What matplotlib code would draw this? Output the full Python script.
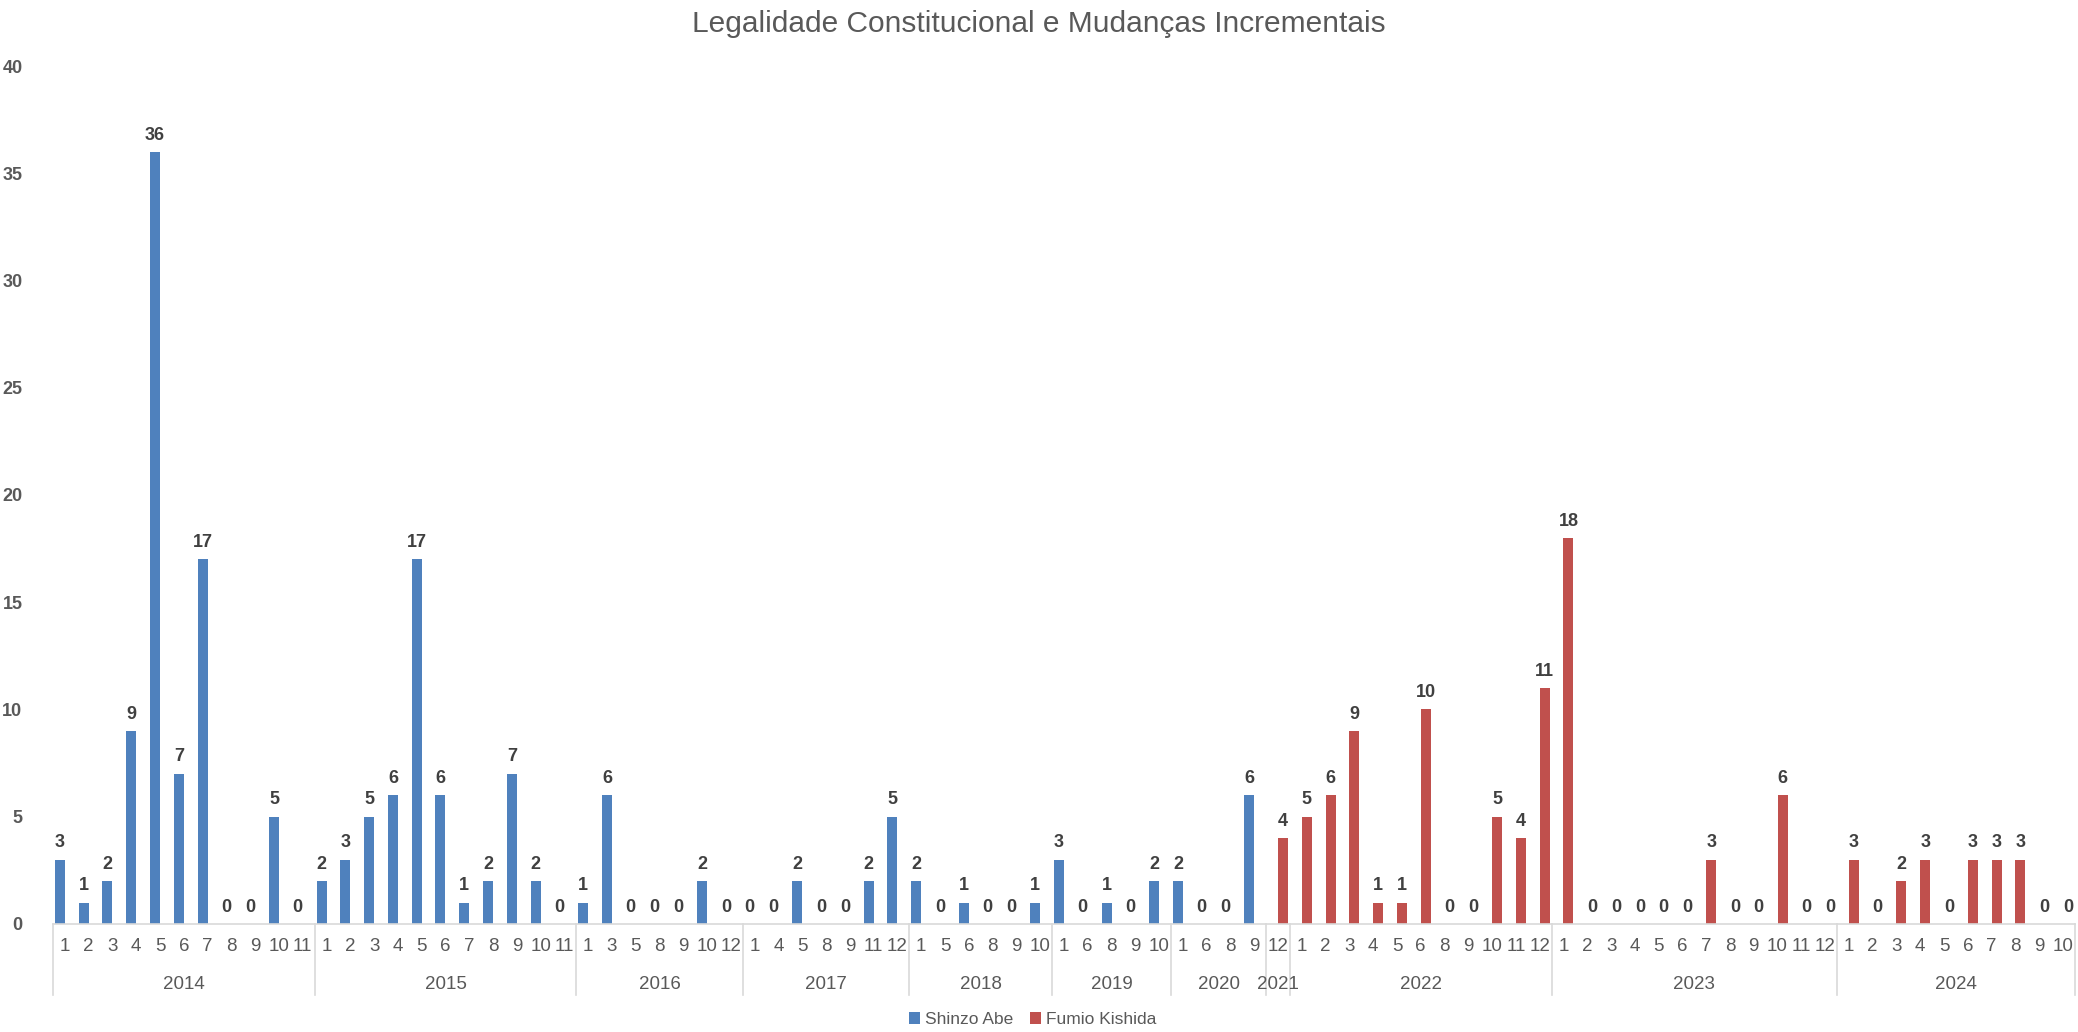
import numpy as np
import matplotlib.pyplot as plt
from matplotlib.transforms import blended_transform_factory

plt.rcParams['font.family'] = ['Liberation Sans', 'DejaVu Sans']

# Dados: anos, meses e contagens
anos = ['2014', '2015', '2016', '2017', '2018', '2019', '2020', '2021', '2022', '2023', '2024']
meses = [
    [1, 2, 3, 4, 5, 6, 7, 8, 9, 10, 11],
    [1, 2, 3, 4, 5, 6, 7, 8, 9, 10, 11],
    [1, 3, 5, 8, 9, 10, 12],
    [1, 4, 5, 8, 9, 11, 12],
    [1, 5, 6, 8, 9, 10],
    [1, 6, 8, 9, 10],
    [1, 6, 8, 9],
    [12],
    [1, 2, 3, 4, 5, 6, 8, 9, 10, 11, 12],
    [1, 2, 3, 4, 5, 6, 7, 8, 9, 10, 11, 12],
    [1, 2, 3, 4, 5, 6, 7, 8, 9, 10],
]
valores = [
    [3, 1, 2, 9, 36, 7, 17, 0, 0, 5, 0],
    [2, 3, 5, 6, 17, 6, 1, 2, 7, 2, 0],
    [1, 6, 0, 0, 0, 2, 0],
    [0, 0, 2, 0, 0, 2, 5],
    [2, 0, 1, 0, 0, 1],
    [3, 0, 1, 0, 2],
    [2, 0, 0, 6],
    [4],
    [5, 6, 9, 1, 1, 10, 0, 0, 5, 4, 11],
    [18, 0, 0, 0, 0, 0, 3, 0, 0, 6, 0, 0],
    [3, 0, 2, 3, 0, 3, 3, 3, 0, 0],
]
# anos do governo Abe (o resto é Kishida)
anos_abe = ['2014', '2015', '2016', '2017', '2018', '2019', '2020']

azul = '#4F81BD'
vermelho = '#C0504D'
cinza = '#595959'

rotulos = [str(m) for grupo in meses for m in grupo]
vals = np.array([v for grupo in valores for v in grupo])
eh_abe = np.array([a in anos_abe for a, grupo in zip(anos, meses) for _ in grupo])
x = np.arange(len(vals))

fig = plt.figure(figsize=(20.78, 10.32), dpi=100)
ax = fig.add_axes([0.0255, 0.1047, 0.973, 0.8313])

w = 0.42
abe = np.where(eh_abe, vals, 0)
kis = np.where(~eh_abe, vals, 0)
ax.bar(x - w / 2, abe, w, color=azul, label='Shinzo Abe')
ax.bar(x + w / 2, kis, w, color=vermelho, label='Fumio Kishida')

# rótulos de dados
for i, v in enumerate(vals):
    xi = x[i] - w / 2 if eh_abe[i] else x[i] + w / 2
    ax.annotate(str(v), (xi, v), xytext=(0, 6), textcoords='offset points',
                ha='center', va='bottom', fontsize=13, fontweight='bold', color='#404040')

ax.set_xlim(-0.5, len(vals) - 0.5)
ax.set_ylim(0, 40)
ax.set_yticks(range(0, 41, 5))
ax.set_xticks(x)
ax.set_xticklabels(rotulos)
ax.tick_params(axis='x', length=0, pad=10, labelsize=13.5, labelcolor=cinza)
ax.tick_params(axis='y', length=0, pad=22, labelsize=13, labelcolor=cinza)
for lab in ax.get_yticklabels():
    lab.set_fontweight('bold')
for s in ['top', 'right', 'left']:
    ax.spines[s].set_visible(False)
ax.spines['bottom'].set_color('#D9D9D9')
ax.spines['bottom'].set_linewidth(1.2)

# eixo de categorias em dois níveis (anos)
tr = blended_transform_factory(ax.transData, ax.transAxes)
inicio = 0
ax.plot([-0.5, -0.5], [0, -0.083], transform=tr, color='#D9D9D9', lw=1.2, clip_on=False)
for ano, grupo in zip(anos, meses):
    fim = inicio + len(grupo)
    ax.text((inicio + fim - 1) / 2, -0.07, ano, transform=tr, ha='center', va='center',
            fontsize=13.5, color=cinza)
    ax.plot([fim - 0.5, fim - 0.5], [0, -0.083], transform=tr, color='#D9D9D9', lw=1.2,
            clip_on=False)
    inicio = fim

fig.suptitle('Legalidade Constitucional e Mudanças Incrementais', y=0.977, va='center',
             fontsize=21.5, color=cinza)
fig.legend(loc='center', bbox_to_anchor=(0.497, 0.012), ncol=2, frameon=False,
           fontsize=12.5, labelcolor=cinza, handlelength=0.6, handleheight=0.6,
           handletextpad=0.3, columnspacing=1.0)

fig.savefig('out.png', dpi=100)
